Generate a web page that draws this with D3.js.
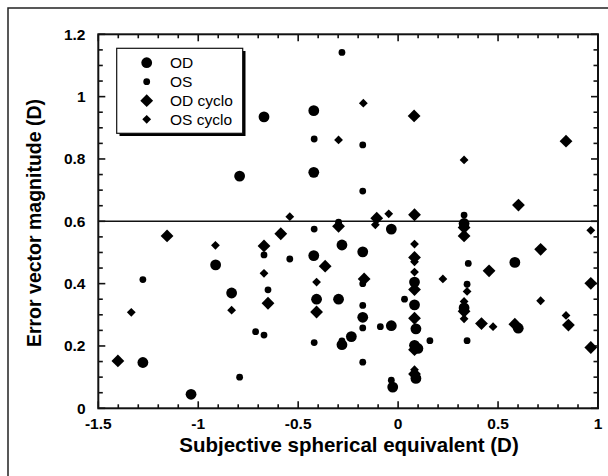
<!DOCTYPE html>
<html>
  <head>
    <meta charset="utf-8">
    <title>Error vector magnitude</title>
    <style>
      body { margin: 0; background: #fff; overflow: hidden; }
      svg { display: block; }
      text { font-family: "Liberation Sans", Arial, Helvetica, sans-serif; }
      .tick-label { font-weight: bold; font-size: 15.5px; }
      .title { font-weight: bold; }
    </style>
    <script src="https://cdn.jsdelivr.net/npm/d3@7"></script>
  </head>
  <body>
    <svg id="chart" width="608" height="476"></svg>
    <script>
      // OD (large circles)
      const odX = [-1.277, -1.036, -0.913, -0.833, -0.793, -0.671, -0.422, -0.422, -0.422, -0.408,
                   -0.298, -0.281, -0.281, -0.234, -0.177, -0.177, -0.034, -0.034, -0.027, 0.082,
                   0.082, 0.089, 0.082, 0.099, 0.089, 0.330, 0.330, 0.584, 0.601];
      const odY = [0.147, 0.045, 0.460, 0.370, 0.745, 0.935, 0.955, 0.757, 0.490, 0.350,
                   0.350, 0.524, 0.204, 0.230, 0.502, 0.292, 0.575, 0.265, 0.068, 0.405,
                   0.332, 0.255, 0.202, 0.192, 0.096, 0.593, 0.322, 0.468, 0.257];

      // OS (small circles)
      const osX = [-1.277, -0.793, -0.713, -0.671, -0.671, -0.651, -0.542, -0.420, -0.420, -0.420,
                   -0.298, -0.281, -0.281, -0.177, -0.177, -0.177, -0.177, -0.177, -0.177, -0.089,
                   -0.034, 0.032, 0.159, 0.330, 0.351, 0.345, 0.345];
      const osY = [0.413, 0.100, 0.246, 0.235, 0.492, 0.380, 0.479, 0.864, 0.575, 0.211,
                   0.597, 1.142, 0.216, 0.845, 0.697, 0.400, 0.330, 0.258, 0.148, 0.262,
                   0.090, 0.350, 0.217, 0.620, 0.465, 0.398, 0.217];

      // OD cyclo (large diamonds)
      const odcX = [-1.402, -1.156, -0.671, -0.651, -0.587, -0.408, -0.365, -0.298, -0.170, -0.107,
                    0.080, 0.082, 0.082, 0.082, 0.082, 0.082, 0.082, 0.330, 0.330, 0.330,
                    0.417, 0.455, 0.584, 0.602, 0.713, 0.840, 0.852, 0.964, 0.964];
      const odcY = [0.152, 0.553, 0.521, 0.337, 0.560, 0.309, 0.456, 0.584, 0.415, 0.610,
                    0.938, 0.621, 0.484, 0.381, 0.289, 0.188, 0.110, 0.580, 0.553, 0.311,
                    0.272, 0.441, 0.270, 0.652, 0.510, 0.857, 0.267, 0.401, 0.195];

      // OS cyclo (small diamonds)
      const oscX = [-1.335, -0.914, -0.833, -0.671, -0.542, -0.408, -0.298, -0.174, -0.114, -0.047,
                    0.082, 0.082, 0.082, 0.082, 0.224, 0.330, 0.330, 0.330, 0.345, 0.475,
                    0.713, 0.840, 0.964];
      const oscY = [0.308, 0.523, 0.315, 0.433, 0.615, 0.405, 0.861, 0.979, 0.589, 0.624,
                    0.527, 0.470, 0.437, 0.124, 0.415, 0.797, 0.343, 0.287, 0.375, 0.262,
                    0.345, 0.298, 0.571];

      const xTicks = [-1.5, -1, -0.5, 0, 0.5, 1];
      const yTicks = [0, 0.2, 0.4, 0.6, 0.8, 1, 1.2];
      const threshold = 0.6;

      const legendNames = ["OD", "OS", "OD cyclo", "OS cyclo"];

      const svg = d3.select("#chart");
      const pLeft = 98.3, pRight = 598, pTop = 34.3, pBottom = 408.3;

      const x = d3.scaleLinear().domain([-1.5, 1]).range([pLeft, pRight]);
      const y = d3.scaleLinear().domain([0, 1.2]).range([pBottom, pTop]);

      // outer frame: only the left and top edges show in the picture
      svg.append("path")
        .attr("d", "M8,476V8H608")
        .attr("fill", "none")
        .attr("stroke", "#222")
        .attr("stroke-width", 1.5);

      // ticks, all pointing inward, on four sides
      const g = svg.append("g");
      const minorX = d3.range(-1.5, 1.0001, 0.1);
      const minorY = d3.range(0, 1.2001, 0.05);
      const isMajor = (v, step) => Math.abs(v / step - Math.round(v / step)) < 1e-6;

      minorX.forEach(v => {
        const len = isMajor(v, 0.5) ? 7 : 4;
        g.append("line").attr("x1", x(v)).attr("x2", x(v)).attr("y1", pBottom).attr("y2", pBottom - len);
        g.append("line").attr("x1", x(v)).attr("x2", x(v)).attr("y1", pTop).attr("y2", pTop + len);
      });
      minorY.forEach(v => {
        const len = isMajor(v, 0.2) ? 7 : 4.5;
        g.append("line").attr("x1", pLeft).attr("x2", pLeft + len).attr("y1", y(v)).attr("y2", y(v));
        g.append("line").attr("x1", pRight).attr("x2", pRight - len).attr("y1", y(v)).attr("y2", y(v));
      });
      g.selectAll("line").attr("stroke", "#111").attr("stroke-width", 1.6);

      // tick labels
      svg.append("g").selectAll("text")
        .data(xTicks).enter().append("text")
        .attr("class", "tick-label")
        .attr("x", d => x(d))
        .attr("y", 428.5)
        .attr("text-anchor", "middle")
        .text(d => String(d));

      svg.append("g").selectAll("text")
        .data(yTicks).enter().append("text")
        .attr("class", "tick-label")
        .attr("x", 85.5)
        .attr("y", d => y(d) + 5.5)
        .attr("text-anchor", "end")
        .text(d => String(d));

      // plot frame
      svg.append("rect")
        .attr("x", pLeft).attr("y", pTop)
        .attr("width", pRight - pLeft).attr("height", pBottom - pTop)
        .attr("fill", "none")
        .attr("stroke", "#111")
        .attr("stroke-width", 2);

      // threshold line
      svg.append("line")
        .attr("x1", pLeft).attr("x2", pRight)
        .attr("y1", y(threshold)).attr("y2", y(threshold))
        .attr("stroke", "#111")
        .attr("stroke-width", 1.5);

      // axis titles
      svg.append("text")
        .attr("class", "title")
        .attr("font-size", 20.5)
        .attr("x", 349)
        .attr("y", 452)
        .attr("text-anchor", "middle")
        .text("Subjective spherical equivalent (D)");

      svg.append("text")
        .attr("class", "title")
        .attr("font-size", 19.5)
        .attr("transform", "translate(41,223) rotate(-90)")
        .attr("text-anchor", "middle")
        .text("Error vector magnitude (D)");

      // marks
      const diamond = h => `M0,${-h}L${h},0L0,${h}L${-h},0Z`;
      const zip = (xs, ys) => xs.map((v, i) => ({ x: v, y: ys[i] }));

      const marks = svg.append("g").attr("fill", "#000");

      marks.selectAll(".od").data(zip(odX, odY)).enter().append("circle")
        .attr("cx", d => x(d.x)).attr("cy", d => y(d.y)).attr("r", 5.4);
      marks.selectAll(".os").data(zip(osX, osY)).enter().append("circle")
        .attr("cx", d => x(d.x)).attr("cy", d => y(d.y)).attr("r", 3.4);
      marks.selectAll(".odc").data(zip(odcX, odcY)).enter().append("path")
        .attr("d", diamond(6.4))
        .attr("transform", d => `translate(${x(d.x)},${y(d.y)})`);
      marks.selectAll(".osc").data(zip(oscX, oscY)).enter().append("path")
        .attr("d", diamond(4.4))
        .attr("transform", d => `translate(${x(d.x)},${y(d.y)})`);

      // legend with drop shadow
      const lg = svg.append("g");
      lg.append("rect")
        .attr("x", 119.5).attr("y", 51).attr("width", 126).attr("height", 85)
        .attr("fill", "#000");
      lg.append("rect")
        .attr("x", 116.7).attr("y", 48.3).attr("width", 126).attr("height", 85)
        .attr("fill", "#fff").attr("stroke", "#111").attr("stroke-width", 1.2);

      const rowY = [62.7, 81.7, 100.7, 119.3];
      const drawers = [
        s => s.append("circle").attr("r", 5.4),
        s => s.append("circle").attr("r", 3.4),
        s => s.append("path").attr("d", diamond(6.4)),
        s => s.append("path").attr("d", diamond(4.4))
      ];
      legendNames.forEach((name, i) => {
        const row = lg.append("g").attr("transform", `translate(146.7,${rowY[i]})`);
        drawers[i](row).attr("fill", "#000");
        row.append("text")
          .attr("x", 23.3).attr("y", 5.3)
          .attr("font-size", 15.5)
          .text(name);
      });
    </script>
  </body>
</html>
